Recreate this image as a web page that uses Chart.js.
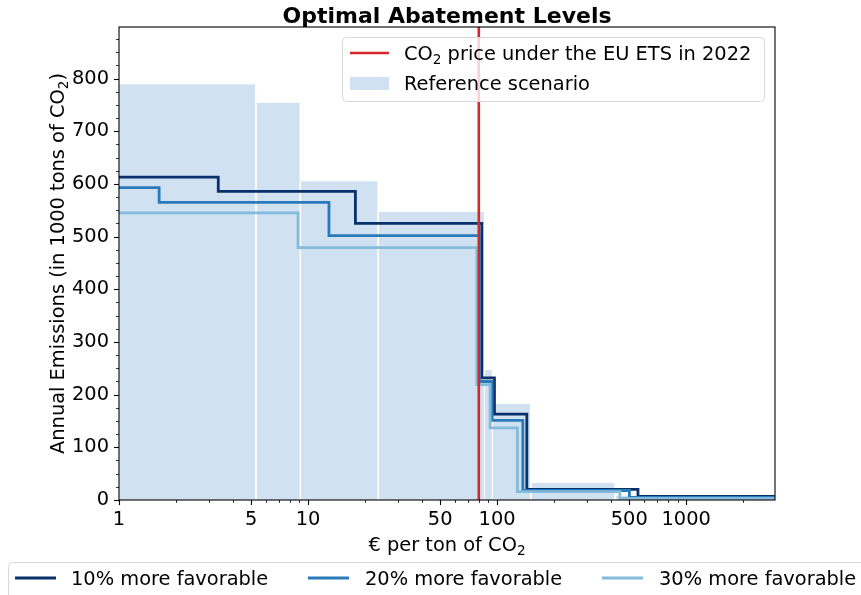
<!DOCTYPE html>
<html lang="en">
<head>
<meta charset="UTF-8">
<title>Optimal Abatement Levels</title>
<script src="https://cdn.jsdelivr.net/npm/chart.js"></script>
<style>
  html, body { margin: 0; padding: 0; background: #fff; }
</style>
</head>
<body>
<canvas id="chart" width="861" height="595"></canvas>
<script>
// Reference scenario: bar edges (each bar runs from one edge to the next) and heights
const refEdges = [1, 5.3, 9.1, 23.5, 85.7, 94.4, 150.7, 421, 2100];
const refLevels = [790, 755, 606, 548, 248, 183, 33, 9];

// Step curves: price where each level starts, and the emission level
const fav10X = [1, 3.35, 17.8, 83, 96.8, 143.6, 556];
const fav10Y = [613, 586, 525, 232, 163, 20, 7];
const fav20X = [1, 1.63, 12.9, 80.6, 94.1, 136.8, 501];
const fav20Y = [593, 565, 502, 225, 151, 18, 5];
const fav30X = [1, 8.85, 78.1, 91.8, 128, 446];
const fav30Y = [545, 479, 219, 137, 16, 3];

const etsPrice = 80;            // CO2 price under the EU ETS in 2022
const xMin = 1, xMax = 2950;
const yMin = 0, yMax = 898;

const xTickLabels = [1, 5, 10, 50, 100, 500, 1000];
const yTickLabels = [0, 100, 200, 300, 400, 500, 600, 700, 800];

const FONT = '"DejaVu Sans", "Liberation Sans", sans-serif';
const BAR_COLOR = '#d0e1f2';

// step line as points, last level held up to the right edge
function steps(xs, ys) {
  const pts = xs.map((v, i) => ({ x: v, y: ys[i] }));
  pts.push({ x: xMax, y: ys[ys.length - 1] });
  return pts;
}

// one rectangle per reference bar
const barSets = refLevels.map((h, i) => ({
  label: 'ref' + i,
  data: [
    { x: refEdges[i], y: 0 }, { x: refEdges[i], y: h },
    { x: refEdges[i + 1], y: h }, { x: refEdges[i + 1], y: 0 }
  ],
  borderColor: '#ffffff',
  borderWidth: 1,
  backgroundColor: BAR_COLOR,
  fill: 'origin',
  pointRadius: 0,
  order: 10
}));

const lineSets = [
  { label: '10% more favorable', data: steps(fav10X, fav10Y), borderColor: '#08306b' },
  { label: '20% more favorable', data: steps(fav20X, fav20Y), borderColor: '#2a7ab9' },
  { label: '30% more favorable', data: steps(fav30X, fav30Y), borderColor: '#84bbdc' }
].map((d, i) => Object.assign(d, {
  stepped: 'before', borderWidth: 2.8, pointRadius: 0, fill: false, order: 5 - i
}));

const etsSet = {
  label: 'ets',
  data: [{ x: etsPrice, y: yMin }, { x: etsPrice, y: yMax }],
  borderColor: '#d62728',
  borderWidth: 2.6,
  pointRadius: 0,
  fill: false,
  order: 0
};

function minorX() {
  const out = [];
  for (let p = 1; p <= 1000; p *= 10) {
    for (let m = 1; m <= 9; m++) {
      const v = m * p;
      if (v >= xMin && v <= xMax && !xTickLabels.includes(v)) out.push(v);
    }
  }
  return out;
}

// text with a subscript part: pieces of [text, isSub]
function richText(ctx, parts, x, y, size, align) {
  const sub = size * 0.7;
  let w = 0;
  parts.forEach(([t, s]) => {
    ctx.font = (s ? sub : size) + 'px ' + FONT;
    w += ctx.measureText(t).width;
  });
  let cx = align === 'center' ? x - w / 2 : x;
  ctx.textAlign = 'left';
  ctx.textBaseline = 'alphabetic';
  parts.forEach(([t, s]) => {
    ctx.font = (s ? sub : size) + 'px ' + FONT;
    ctx.fillText(t, cx, s ? y + size * 0.2 : y);
    cx += ctx.measureText(t).width;
  });
}

const decor = {
  id: 'decor',
  afterDatasetsDraw(chart) {
    const { ctx, chartArea: a, scales: { x, y } } = chart;
    ctx.save();
    ctx.strokeStyle = '#000';
    // x ticks
    xTickLabels.forEach(v => {
      const px = Math.round(x.getPixelForValue(v)) + 0.5;
      ctx.lineWidth = 1.1;
      ctx.beginPath(); ctx.moveTo(px, a.bottom); ctx.lineTo(px, a.bottom + 5); ctx.stroke();
    });
    minorX().forEach(v => {
      const px = Math.round(x.getPixelForValue(v)) + 0.5;
      ctx.lineWidth = 0.8;
      ctx.beginPath(); ctx.moveTo(px, a.bottom); ctx.lineTo(px, a.bottom + 3); ctx.stroke();
    });
    // y ticks, minor every 25
    for (let v = yMin; v <= yMax; v += 25) {
      const py = Math.round(y.getPixelForValue(v)) + 0.5;
      const major = yTickLabels.includes(v);
      ctx.lineWidth = major ? 1.1 : 0.8;
      ctx.beginPath(); ctx.moveTo(a.left, py); ctx.lineTo(a.left - (major ? 5 : 3), py); ctx.stroke();
    }
    // frame
    ctx.lineWidth = 1.1;
    ctx.strokeRect(a.left, a.top, a.right - a.left, a.bottom - a.top);
    ctx.restore();
  },
  afterDraw(chart) {
    const { ctx, chartArea: a } = chart;
    const fs = 19.4;
    ctx.save();
    ctx.fillStyle = '#000';

    // title
    ctx.font = 'bold 22px ' + FONT;
    ctx.textAlign = 'center';
    ctx.textBaseline = 'alphabetic';
    ctx.fillText('Optimal Abatement Levels', (a.left + a.right) / 2, 23);

    // axis titles
    richText(ctx, [['€ per ton of CO', false], ['2', true]], (a.left + a.right) / 2, 551, fs, 'center');
    ctx.save();
    ctx.translate(64, (a.top + a.bottom) / 2);
    ctx.rotate(-Math.PI / 2);
    richText(ctx, [['Annual Emissions (in 1000 tons of CO', false], ['2', true], [')', false]], 0, 0, fs, 'center');
    ctx.restore();

    // inner legend
    ctx.beginPath();
    ctx.roundRect(342.5, 37.5, 422, 64, 4);
    ctx.fillStyle = 'rgba(255,255,255,0.8)';
    ctx.fill();
    ctx.strokeStyle = '#d9d9d9';
    ctx.lineWidth = 1;
    ctx.stroke();
    ctx.strokeStyle = etsSet.borderColor;
    ctx.lineWidth = 2.6;
    ctx.beginPath(); ctx.moveTo(350, 53); ctx.lineTo(389, 53); ctx.stroke();
    ctx.fillStyle = BAR_COLOR;
    ctx.fillRect(350, 77, 39, 13);
    ctx.fillStyle = '#000';
    richText(ctx, [['CO', false], ['2', true], [' price under the EU ETS in 2022', false]], 404, 60, fs, 'left');
    ctx.font = fs + 'px ' + FONT;
    ctx.fillText('Reference scenario', 404, 90);

    // bottom legend
    ctx.beginPath();
    ctx.roundRect(8.5, 562.5, 870, 40, 4);
    ctx.fillStyle = '#fff';
    ctx.fill();
    ctx.strokeStyle = '#d9d9d9';
    ctx.lineWidth = 1;
    ctx.stroke();
    const items = [[15, 71], [308, 365], [602, 659]];
    lineSets.forEach((d, i) => {
      const [lx, tx] = items[i];
      ctx.strokeStyle = d.borderColor;
      ctx.lineWidth = 2.8;
      ctx.beginPath(); ctx.moveTo(lx, 578); ctx.lineTo(lx + 41, 578); ctx.stroke();
      ctx.fillStyle = '#000';
      ctx.font = fs + 'px ' + FONT;
      ctx.textAlign = 'left';
      ctx.fillText(d.label, tx, 585);
    });
    ctx.restore();
  }
};

Chart.defaults.color = '#000';
Chart.defaults.font.family = FONT;

new Chart(document.getElementById('chart'), {
  type: 'line',
  data: { datasets: [etsSet, ...lineSets, ...barSets] },
  options: {
    responsive: false,
    animation: false,
    devicePixelRatio: 1,
    layout: { padding: { left: 0, right: 86, top: 27, bottom: 0 } },
    plugins: { legend: { display: false }, tooltip: { enabled: false } },
    scales: {
      x: {
        type: 'logarithmic',
        min: xMin,
        max: xMax,
        afterBuildTicks: s => { s.ticks = xTickLabels.map(v => ({ value: v })); },
        afterFit: s => { s.height = 95; },
        ticks: {
          autoSkip: false, maxRotation: 0, padding: 8,
          font: { size: 19.4 },
          callback: v => String(v)
        },
        grid: { display: false, drawTicks: false },
        border: { display: false }
      },
      y: {
        type: 'linear',
        min: yMin,
        max: yMax,
        afterBuildTicks: s => { s.ticks = yTickLabels.map(v => ({ value: v })); },
        afterFit: s => { s.width = 119; },
        ticks: { autoSkip: false, padding: 10, font: { size: 19.4 }, callback: v => String(v) },
        grid: { display: false, drawTicks: false },
        border: { display: false }
      }
    }
  },
  plugins: [decor]
});
</script>
</body>
</html>
